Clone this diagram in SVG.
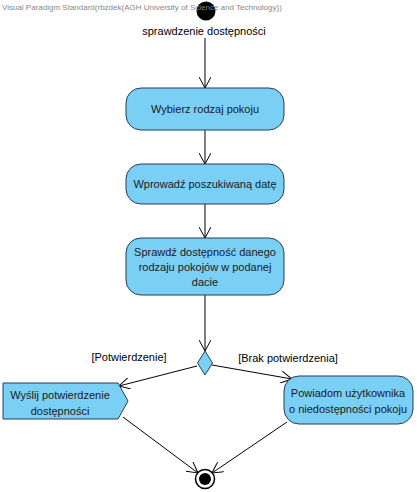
<svg xmlns="http://www.w3.org/2000/svg" width="417" height="492" viewBox="0 0 417 492">
<defs>
<marker id="open" viewBox="0 0 12 12" refX="11" refY="6" markerWidth="12" markerHeight="12" markerUnits="userSpaceOnUse" orient="auto">
<path d="M0,0 L11,6 L0,12" fill="none" stroke="#000" stroke-width="1"/>
</marker>
</defs>
<style>
.act{fill:#7ACFF5;stroke:#2a3b55;stroke-width:1}
.t{font-family:"Liberation Sans",Arial,sans-serif;font-size:11px;fill:#1a1a1a;text-anchor:middle}
.lbl{font-family:"Liberation Sans",Arial,sans-serif;font-size:11px;fill:#000;text-anchor:middle}
.wm{font-family:"Liberation Sans",Arial,sans-serif;font-size:8px;fill:#888}
.c{stroke:#000;stroke-width:1;fill:none;marker-end:url(#open)}
</style>
<rect width="417" height="492" fill="#fff"/>
<g id="start">
<circle cx="206" cy="11" r="9.5" fill="#000"/>
<text class="lbl" x="204" y="35">sprawdzenie dostępności</text>
</g>
<text class="wm" x="2" y="10">Visual Paradigm Standard(rbzdek(AGH University of Science and Technology))</text>
<g id="connectors">
<line class="c" x1="205" y1="38" x2="205" y2="88"/>
<line class="c" x1="205" y1="130" x2="205" y2="164"/>
<line class="c" x1="205" y1="204" x2="205" y2="238"/>
<line class="c" x1="205" y1="295" x2="205" y2="351"/>
<line class="c" x1="197" y1="366" x2="119" y2="386"/>
<line class="c" x1="212" y1="365" x2="292" y2="379"/>
<line class="c" x1="123" y1="417" x2="198" y2="473"/>
<line class="c" x1="287" y1="422" x2="212" y2="473"/>
<text class="lbl" x="129" y="361">[Potwierdzenie]</text>
<text class="lbl" x="288" y="362">[Brak potwierdzenia]</text>
</g>
<g id="wybierz">
<rect class="act" x="126" y="88" width="158" height="42" rx="15"/>
<text class="t" x="205" y="113">Wybierz rodzaj pokoju</text>
</g>
<g id="wprowadz">
<rect class="act" x="126" y="164" width="158" height="40" rx="15"/>
<text class="t" x="205" y="188">Wprowadź poszukiwaną datę</text>
</g>
<g id="sprawdz">
<rect class="act" x="126" y="238" width="158" height="57" rx="15"/>
<text class="t" x="205" y="256">Sprawdź dostępność danego</text>
<text class="t" x="205" y="271">rodzaju pokojów w podanej</text>
<text class="t" x="205" y="286">dacie</text>
</g>
<g id="decision">
<polygon class="act" points="205,351 212.5,363 205,375 197.5,363"/>
</g>
<g id="wyslij">
<polygon class="act" points="3,383 118,383 128,401 118,419 3,419"/>
<text class="t" x="60" y="399">Wyślij potwierdzenie</text>
<text class="t" x="60" y="415">dostępności</text>
</g>
<g id="powiadom">
<rect class="act" x="284" y="376" width="129" height="48" rx="15"/>
<text class="t" x="348" y="397">Powiadom użytkownika</text>
<text class="t" x="348" y="413">o niedostępności pokoju</text>
</g>
<g id="end">
<circle cx="205" cy="479" r="9.5" fill="#fff" stroke="#000" stroke-width="1.5"/>
<circle cx="205" cy="479" r="6" fill="#000"/>
</g>
</svg>
